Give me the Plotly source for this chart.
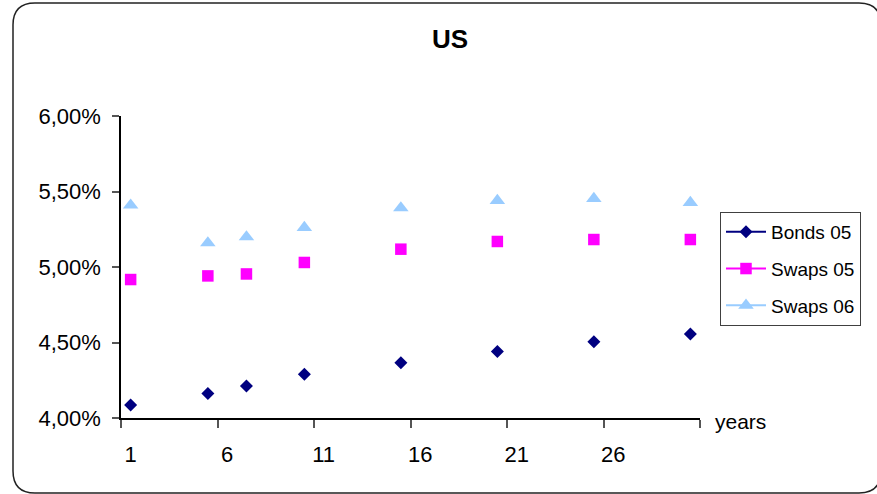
import plotly.graph_objects as go

# categories on the x axis (1..30 years), data only at some of them
categories = list(range(1, 31))
years = [1, 5, 7, 10, 15, 20, 25, 30]

bonds_05 = [0.04086, 0.04163, 0.04212, 0.04289, 0.04366, 0.04441, 0.04505, 0.04556]
swaps_05 = [0.04917, 0.04941, 0.04954, 0.05030, 0.05118, 0.05169, 0.05182, 0.05182]
swaps_06 = [0.05409, 0.05159, 0.05199, 0.05261, 0.05391, 0.05440, 0.05453, 0.05427]

x_ticks = [1, 6, 11, 16, 21, 26]
y_ticks = [0.04, 0.045, 0.05, 0.055, 0.06]

FONT = "Liberation Sans, Arial, sans-serif"
W, H = 877, 494
L, R, T, B = 121, 177, 116, 76


def fill(vals):
    # empty categories stay None so no lines get drawn between points
    d = dict(zip(years, vals))
    return [d.get(c) for c in categories]


series = [
    ("Bonds 05", bonds_05, "#000080", "diamond", 10),
    ("Swaps 05", swaps_05, "#FF00FF", "square", 11.5),
    ("Swaps 06", swaps_06, "#99CCFF", "triangle-up", 13.5),
]

fig = go.Figure()
for i, (name, vals, col, sym, sz) in enumerate(series):
    fig.add_trace(go.Scatter(
        x=categories, y=fill(vals), name=name, mode="lines+markers",
        connectgaps=False, legendgroup=str(i),
        line=dict(color=col, width=2),
        marker=dict(symbol=sym, size=sz, color=col, line=dict(width=0)),
    ))

# rounded outer frame (paper coordinates)
pw, ph = W - L - R, H - T - B


def px(x):
    return (x - L) / pw


def py(y):
    return (H - B - y) / ph


x0, x1, y0, y1, r = 13, 881, 3, 493, 22
path = (f"M {px(x0)},{py(y0 + r)} Q {px(x0)},{py(y0)} {px(x0 + r)},{py(y0)} "
        f"L {px(x1 - r)},{py(y0)} Q {px(x1)},{py(y0)} {px(x1)},{py(y0 + r)} "
        f"L {px(x1)},{py(y1 - r)} Q {px(x1)},{py(y1)} {px(x1 - r)},{py(y1)} "
        f"L {px(x0 + r)},{py(y1)} Q {px(x0)},{py(y1)} {px(x0)},{py(y1 - r)} Z")

fig.update_layout(
    width=W, height=H,
    margin=dict(l=L, r=R, t=T, b=B),
    paper_bgcolor="white", plot_bgcolor="white",
    separators=",.",
    font=dict(family=FONT, color="black", size=21),
    title=dict(text="<b>US</b>", x=450 / W, xanchor="center",
               y=1 - 39 / H, yanchor="middle",
               font=dict(family=FONT, size=26, color="black")),
    xaxis=dict(range=[0.5, 30.5], tickmode="array", tickvals=x_ticks,
               ticks="", showgrid=False, zeroline=False,
               showline=True, linecolor="black", linewidth=1.5,
               ticklabelstandoff=16, tickfont=dict(size=22),
               minor=dict(tickmode="array",
                          tickvals=[c + 0.5 for c in range(0, 31, 5)],
                          ticks="outside", ticklen=8, tickcolor="#555",
                          tickwidth=1.5, showgrid=False)),
    yaxis=dict(range=[0.04, 0.06], tickmode="array", tickvals=y_ticks,
               tickformat=".2%", ticks="outside", ticklen=7,
               tickcolor="#555", tickwidth=1.5, showgrid=False,
               zeroline=False, showline=True, linecolor="black",
               linewidth=1.5, ticklabelstandoff=7,
               tickfont=dict(size=22)),
    legend=dict(x=px(720), y=py(212), xanchor="left", yanchor="top",
                bordercolor="#404040", borderwidth=1, bgcolor="white",
                font=dict(size=19), tracegroupgap=9,
                itemwidth=40),
    shapes=[dict(type="path", path=path, xref="paper", yref="paper",
                 line=dict(color="#222", width=1.5), layer="below")],
    annotations=[dict(text="years", x=px(713), y=py(421), xref="paper",
                      yref="paper", xanchor="left", yanchor="middle",
                      showarrow=False, font=dict(size=21))],
    showlegend=True,
)

# the page body has a default 8px margin; drop it so the chart sits at 0,0
fig.write_html("out.html", config={"displayModeBar": False},
               post_script="document.body.style.margin='0';")
